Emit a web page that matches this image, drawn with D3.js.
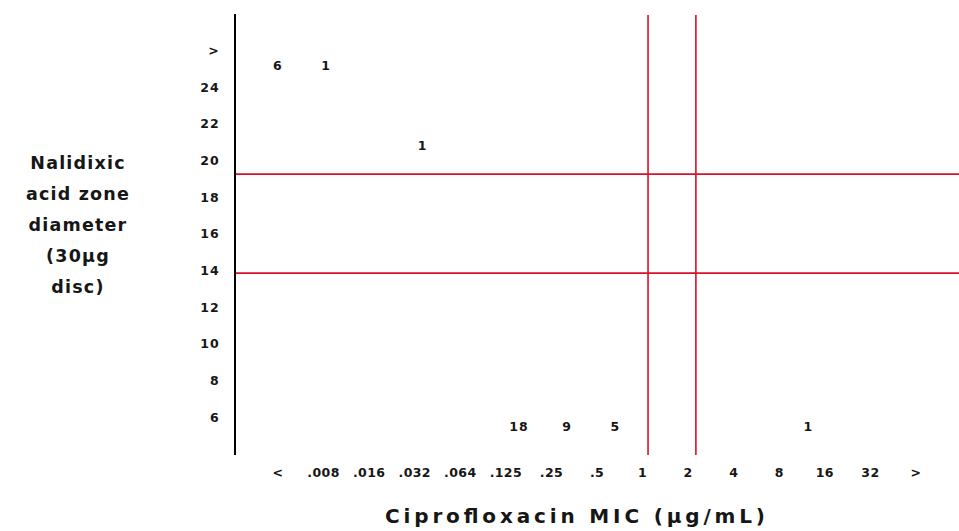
<!DOCTYPE html>
<html>
<head>
<meta charset="utf-8">
<script src="https://cdn.jsdelivr.net/npm/d3@7"></script>
<style>
  html, body { margin: 0; padding: 0; background: #fff; }
  svg { display: block; }
</style>
</head>
<body>
<script>
// Ciprofloxacin MIC categories (x) and nalidixic acid zone diameters (y)
const micCategories = ["<", ".008", ".016", ".032", ".064", ".125", ".25", ".5", "1", "2", "4", "8", "16", "32", ">"];
const zoneTicks = [6, 8, 10, 12, 14, 16, 18, 20, 22, 24, 26];
const zoneTickLabels = ["6", "8", "10", "12", "14", "16", "18", "20", "22", "24", ">"];

// Isolate counts per cell
const countMic = ["<", ".008", ".032", ".125", ".25", ".5", "8"];
const countZone = [25.2, 25.2, 20.8, 5.5, 5.5, 5.5, 5.5];
const countN = [6, 1, 1, 18, 9, 5, 1];

// Interpretive breakpoints
const zoneBreakpoints = [19.25, 13.85];
const micBreakpoints = [8.12, 9.17]; // positions on the MIC category axis (1 and 2 µg/mL)

const W = 959, H = 531;
const svg = d3.select("body").append("svg").attr("width", W).attr("height", H);

const axisX = 235, plotTop = 14, plotBottom = 455;

const xTick = d3.scaleLinear().domain([0, micCategories.length - 1]).range([278, 916]);
const xCell = d3.scalePoint().domain(micCategories).range([278, 953]);
const y = d3.scaleLinear().domain([6, 24]).range([417, 87]);

const tickFont = "'DejaVu Sans', Verdana, sans-serif";
const ink = "#161616";

// y axis line
svg.append("line")
  .attr("x1", axisX).attr("x2", axisX)
  .attr("y1", plotTop).attr("y2", plotBottom)
  .attr("stroke", "#000").attr("stroke-width", 2);

function tickText(sel) {
  sel.attr("font-family", tickFont)
    .attr("font-weight", "bold")
    .attr("font-size", 12.5)
    .attr("letter-spacing", 1.2)
    .attr("fill", ink);
}

// y tick labels
svg.append("g").selectAll("text").data(zoneTicks).join("text")
  .attr("x", 220)
  .attr("y", d => y(d))
  .attr("dy", "0.36em")
  .attr("text-anchor", "end")
  .call(tickText)
  .text((d, i) => zoneTickLabels[i]);

// x tick labels
svg.append("g").selectAll("text").data(micCategories).join("text")
  .attr("x", (d, i) => xTick(i))
  .attr("y", 472)
  .attr("dy", "0.36em")
  .attr("text-anchor", "middle")
  .call(tickText)
  .attr("letter-spacing", 0.4)
  .text(d => d);

// breakpoint lines
const red = "#d9102c";
svg.append("g").selectAll("line").data(zoneBreakpoints).join("line")
  .attr("x1", axisX + 1).attr("x2", W)
  .attr("y1", d => y(d)).attr("y2", d => y(d))
  .attr("stroke", red).attr("stroke-width", 1.6);

svg.append("g").selectAll("line").data(micBreakpoints).join("line")
  .attr("x1", d => xTick(d)).attr("x2", d => xTick(d))
  .attr("y1", plotTop + 1).attr("y2", plotBottom)
  .attr("stroke", red).attr("stroke-width", 1.6);

// counts
svg.append("g").selectAll("text").data(countN).join("text")
  .attr("x", (d, i) => xCell(countMic[i]))
  .attr("y", (d, i) => y(countZone[i]))
  .attr("dy", "0.36em")
  .attr("text-anchor", "middle")
  .call(tickText)
  .text(d => d);

// axis titles
const titleFont = "'DejaVu Sans', Verdana, sans-serif";
svg.append("text")
  .attr("x", 575).attr("y", 516)
  .attr("dy", "0.36em")
  .attr("text-anchor", "middle")
  .attr("font-family", titleFont)
  .attr("font-weight", "bold")
  .attr("font-size", 20)
  .attr("textLength", 380)
  .attr("lengthAdjust", "spacing")
  .attr("fill", ink)
  .text("Ciprofloxacin MIC (µg/mL)");

const yTitle = ["Nalidixic", "acid zone", "diameter", "(30µg", "disc)"];
svg.append("g").selectAll("text").data(yTitle).join("text")
  .attr("x", 78)
  .attr("y", (d, i) => 163 + i * 31)
  .attr("dy", "0.36em")
  .attr("text-anchor", "middle")
  .attr("font-family", titleFont)
  .attr("font-weight", "bold")
  .attr("font-size", 17.5)
  .attr("letter-spacing", 1.2)
  .attr("fill", ink)
  .text(d => d);
</script>
</body>
</html>
